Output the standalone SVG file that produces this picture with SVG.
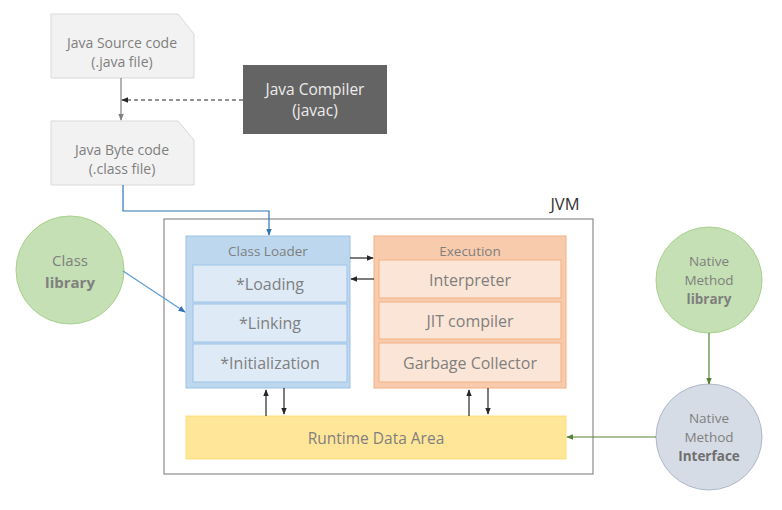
<svg xmlns="http://www.w3.org/2000/svg" width="782" height="510" viewBox="0 0 782 510">
<defs>
<style>
text{font-family:"Open Sans","Liberation Sans",sans-serif;text-anchor:middle;dominant-baseline:central;fill:#7f7f7f}
.doc{fill:#f2f2f2;stroke:#d9d9d9;stroke-width:1}
.b{font-weight:bold}
.ln{fill:none;stroke-width:1.2}
.nm{font-size:13.5px}
</style>
<marker id="ag" viewBox="0 0 10 10" refX="9" refY="5" markerWidth="6" markerHeight="6" orient="auto"><path d="M0,1 L10,5 L0,9 z" fill="#808080"/></marker>
<marker id="ak" viewBox="0 0 10 10" refX="9" refY="5" markerWidth="6" markerHeight="6" orient="auto"><path d="M0,1 L10,5 L0,9 z" fill="#262626"/></marker>
<marker id="ab" viewBox="0 0 10 10" refX="9" refY="5" markerWidth="6" markerHeight="6" orient="auto"><path d="M0,1 L10,5 L0,9 z" fill="#2e75b6"/></marker>
<marker id="agr" viewBox="0 0 10 10" refX="9" refY="5" markerWidth="6" markerHeight="6" orient="auto"><path d="M0,1 L10,5 L0,9 z" fill="#548235"/></marker>
</defs>
<rect width="782" height="510" fill="#ffffff"/>

<g id="jvm">
<rect x="164" y="219" width="429" height="255" fill="#ffffff" stroke="#8c8c8c" stroke-width="1.2"/>
<text x="565" y="203" style="font-size:16.5px;fill:#333333">JVM</text>
</g>

<g id="source">
<path class="doc" d="M51,14 H178 L194,34 V78 H51 Z"/>
<text x="122" y="42" style="font-size:14px">Java Source code</text>
<text x="122" y="61" style="font-size:14px">(.java file)</text>
</g>

<g id="bytecode">
<path class="doc" d="M51,121 H178 L194,140 V185 H51 Z"/>
<text x="122" y="149" style="font-size:14px">Java Byte code</text>
<text x="122" y="168" style="font-size:14px">(.class file)</text>
</g>

<g id="compiler">
<rect x="243" y="65" width="144" height="69" fill="#646464"/>
<text x="315" y="89" style="font-size:15.5px;fill:#ececec">Java Compiler</text>
<text x="315" y="110" style="font-size:15.5px;fill:#ececec">(javac)</text>
</g>

<g id="classloader">
<rect x="186" y="236" width="164" height="152" fill="#bdd7ee" stroke="#9dc3e6"/>
<text x="268" y="251" style="font-size:13.5px">Class Loader</text>
<rect x="193" y="265" width="154" height="37" fill="#deebf7" stroke="#9dc3e6"/>
<text x="270" y="284" style="font-size:16px">*Loading</text>
<rect x="193" y="304" width="154" height="38" fill="#deebf7" stroke="#9dc3e6"/>
<text x="270" y="323" style="font-size:16px">*Linking</text>
<rect x="193" y="344" width="154" height="38" fill="#deebf7" stroke="#9dc3e6"/>
<text x="270" y="363" style="font-size:16px">*Initialization</text>
</g>

<g id="execution">
<rect x="374" y="236" width="192" height="152" fill="#f8cbad" stroke="#f4b183"/>
<text x="470" y="251" style="font-size:13.5px">Execution</text>
<rect x="379" y="260" width="182" height="38" fill="#fbe5d6" stroke="#f4b183"/>
<text x="470" y="280" style="font-size:16px">Interpreter</text>
<rect x="379" y="302" width="182" height="37" fill="#fbe5d6" stroke="#f4b183"/>
<text x="470" y="321" style="font-size:16px">JIT compiler</text>
<rect x="379" y="343" width="182" height="39" fill="#fbe5d6" stroke="#f4b183"/>
<text x="470" y="363" style="font-size:16px">Garbage Collector</text>
</g>

<g id="runtime">
<rect x="186" y="416" width="380" height="43" fill="#ffe699" stroke="#ffd966" stroke-width="0.8"/>
<text x="376" y="438" style="font-size:15.5px">Runtime Data Area</text>
</g>

<g id="classlib">
<circle cx="70" cy="270" r="54" fill="#c5e0b4" stroke="#a9d18e"/>
<text x="70" y="260" style="font-size:15px">Class</text>
<text x="70" y="282" class="b" style="font-size:15px">library</text>
</g>

<g id="nativelib">
<circle cx="709" cy="280" r="53" fill="#c5e0b4" stroke="#a9d18e"/>
<text x="709" y="261" class="nm">Native</text>
<text x="709" y="280" class="nm">Method</text>
<text x="709" y="299" class="nm b">library</text>
</g>

<g id="nativeif">
<circle cx="709" cy="437" r="53" fill="#d6dce5" stroke="#adb9ca"/>
<text x="709" y="418" class="nm">Native</text>
<text x="709" y="437" class="nm">Method</text>
<text x="709" y="456" class="nm b" style="fill:#6f6f6f">Interface</text>
</g>

<g id="connectors">
<path class="ln" d="M121,78 V120" stroke="#808080" marker-end="url(#ag)"/>
<path class="ln" d="M243,100 H122" stroke="#262626" stroke-dasharray="4,3" marker-end="url(#ak)"/>
<path class="ln" d="M123,185 V211 H269 V235" stroke="#2e75b6" marker-end="url(#ab)"/>
<path class="ln" d="M123,271 L185,312" stroke="#5b9bd5" marker-end="url(#ab)"/>
<path class="ln" d="M350,258 H373" stroke="#262626" marker-end="url(#ak)"/>
<path class="ln" d="M374,279 H351" stroke="#262626" marker-end="url(#ak)"/>
<path class="ln" d="M266,416 V390" stroke="#262626" marker-end="url(#ak)"/>
<path class="ln" d="M284,388 V414" stroke="#262626" marker-end="url(#ak)"/>
<path class="ln" d="M469,416 V390" stroke="#262626" marker-end="url(#ak)"/>
<path class="ln" d="M488,388 V414" stroke="#262626" marker-end="url(#ak)"/>
<path class="ln" d="M709,333 V384" stroke="#548235" marker-end="url(#agr)"/>
<path class="ln" d="M656,437 H567" stroke="#548235" marker-end="url(#agr)"/>
</g>
</svg>
